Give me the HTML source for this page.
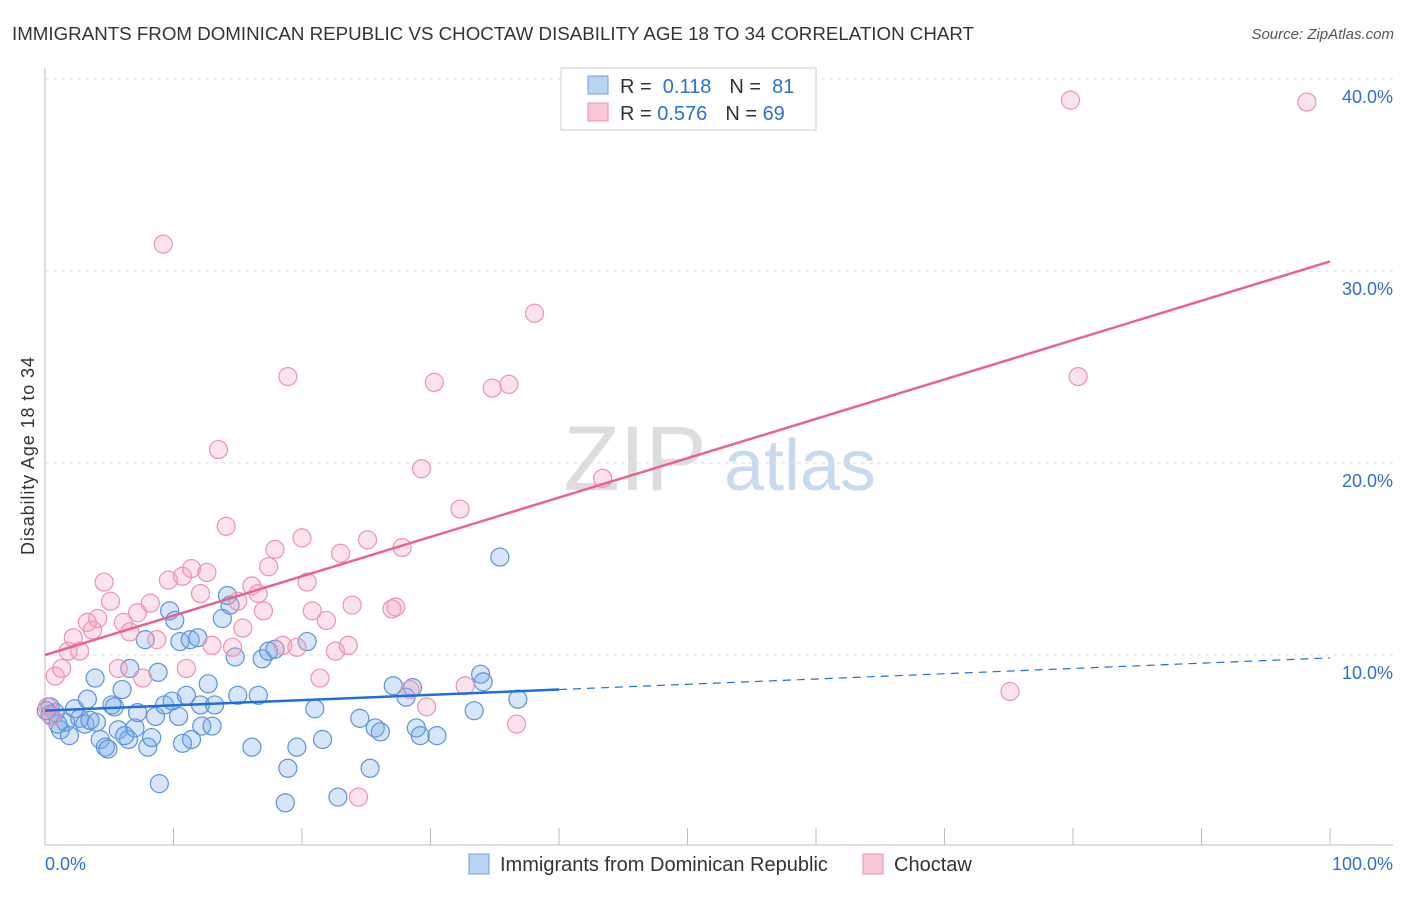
<!DOCTYPE html>
<html><head><meta charset="utf-8"><style>
body{margin:0;background:#fff;font-family:"Liberation Sans",sans-serif;}
svg text{font-family:"Liberation Sans",sans-serif;}
</style></head><body>
<svg id="chart" width="1406" height="892" viewBox="0 0 1406 892">
<text x="12" y="40" font-size="18" fill="#333" textLength="962" lengthAdjust="spacingAndGlyphs">IMMIGRANTS FROM DOMINICAN REPUBLIC VS CHOCTAW DISABILITY AGE 18 TO 34 CORRELATION CHART</text>
<text x="1394" y="39" font-size="15" fill="#555" font-style="italic" text-anchor="end">Source: ZipAtlas.com</text>
<text x="0" y="0" transform="translate(34,456) rotate(-90)" font-size="18" fill="#333" text-anchor="middle" textLength="198">Disability Age 18 to 34</text>
<g><text x="635" y="490" font-size="92" fill="#ddd" font-family="Liberation Serif" text-anchor="middle">ZIP</text><text x="800" y="490" font-size="72" fill="#c8daf0" text-anchor="middle">atlas</text></g>
<g id="grid"></g><g id="axes"></g><g id="pts"></g><g id="lines"></g>
<g>
<rect x="561" y="68" width="255" height="62" fill="#fff" stroke="#ccc"/>
<rect x="588" y="76" width="20" height="18" fill="#b9d3f2" stroke="#6a9ee0"/>
<rect x="588" y="103" width="20" height="18" fill="#f9c6d4" stroke="#eb8fab"/>
<text x="620" y="93" font-size="20" fill="#333">R = <tspan fill="#2a6fd6">&#160;0.118</tspan><tspan dx="18">N = </tspan><tspan fill="#2a6fd6">&#160;81</tspan></text>
<text x="620" y="120" font-size="20" fill="#333">R = <tspan fill="#2a6fd6">0.576</tspan><tspan dx="18">N = </tspan><tspan fill="#2a6fd6">69</tspan></text>
</g>
<g>
<rect x="469" y="854" width="20" height="20" fill="#b9d3f2" stroke="#6a9ee0"/>
<text x="500" y="871" font-size="20" fill="#333">Immigrants from Dominican Republic</text>
<rect x="863" y="854" width="20" height="20" fill="#f9c6d4" stroke="#eb8fab"/>
<text x="894" y="871" font-size="20" fill="#333">Choctaw</text>
</g>
</svg>
<script>
const xTickVals=[0,10,20,30,40,50,60,70,80,90,100];
const yTickVals=[10,20,30,40];
const yTickLabels=["10.0%","20.0%","30.0%","40.0%"];
const xEndLabels=["0.0%","100.0%"];
const blueX=[0.4,0.8,1.2,1.6,1.9,2.3,2.7,3.1,3.3,3.9,4.0,4.3,4.7,4.9,5.2,5.4,5.7,6.0,6.5,6.6,7.0,7.2,7.8,8.0,8.3,8.6,8.8,8.9,9.3,9.7,9.9,10.1,10.4,10.5,10.7,11.0,11.3,11.4,11.9,12.1,12.2,12.7,13.0,13.2,13.8,14.2,14.4,14.8,15.0,16.1,16.6,16.9,17.4,17.9,18.7,18.9,19.6,20.4,21.0,21.6,22.8,24.5,25.3,25.7,26.1,27.1,28.1,28.6,28.9,29.2,30.5,33.4,33.9,34.1,35.4,36.8,0.4,1.0,3.5,6.2,0.1];
const blueY=[7.3,7.0,6.1,6.5,5.8,7.2,6.7,6.4,7.7,8.8,6.5,5.6,5.2,5.1,7.4,7.3,6.1,8.2,5.6,9.3,6.2,7.0,10.8,5.2,5.7,6.8,9.1,3.3,7.4,12.3,7.6,11.8,6.8,10.7,5.4,7.9,10.8,5.6,10.9,7.4,6.3,8.5,6.3,7.4,11.9,13.1,12.6,9.9,7.9,5.2,7.9,9.8,10.2,10.3,2.3,4.1,5.2,10.7,7.2,5.6,2.6,6.7,4.1,6.2,6.0,8.4,7.8,8.3,6.2,5.8,5.8,7.1,9.0,8.6,15.1,7.7,6.9,6.4,6.6,5.8,7.1];
const pinkX=[0.2,0.8,1.3,1.8,2.2,2.7,3.3,3.7,4.1,4.6,5.1,5.7,6.1,6.6,7.2,7.6,8.2,8.7,9.2,9.6,10.7,11.0,11.4,12.1,12.6,13.0,13.5,14.1,14.6,15.0,15.4,16.1,16.6,17.0,17.4,17.9,18.5,18.9,19.6,20.0,20.4,20.8,21.4,21.9,22.6,23.0,23.6,23.9,24.4,25.1,27.0,27.3,27.8,28.4,29.3,29.7,30.3,32.3,32.7,34.8,36.1,36.7,38.1,43.4,75.1,79.8,80.4,98.2,0.5];
const pinkY=[7.3,8.9,9.3,10.2,10.9,10.2,11.7,11.3,11.9,13.8,12.8,9.3,11.7,11.2,12.2,8.8,12.7,10.8,31.4,13.9,14.1,9.3,14.5,13.2,14.3,10.5,20.7,16.7,10.4,12.8,11.4,13.6,13.2,12.3,14.6,15.5,10.5,24.5,10.4,16.1,13.8,12.3,8.8,11.8,10.2,15.3,10.5,12.6,2.6,16.0,12.4,12.5,15.6,8.2,19.7,7.3,24.2,17.6,8.4,23.9,24.1,6.4,27.8,19.2,8.1,38.9,24.5,38.8,6.8];
const blueTrend=[7.1,9.85];
const blueSolidEnd=40;
const pinkTrend=[10.0,30.5];

const NS="http://www.w3.org/2000/svg";
const X=v=>45+v*12.85, Y=v=>847-v*19.2;
function mk(p,t,a){const e=document.createElementNS(NS,t);for(const k in a)e.setAttribute(k,a[k]);p.appendChild(e);return e;}
const grid=document.getElementById('grid'),axes=document.getElementById('axes'),pts=document.getElementById('pts'),lines=document.getElementById('lines');
yTickVals.forEach((v,i)=>{
 const g=mk(grid,'line',{x1:45,x2:1393,y1:Y(v),y2:Y(v),stroke:'#ddd','stroke-dasharray':'4,4'});
 
 
 const t=mk(axes,'text',{x:1393,y:Y(v)+24,'font-size':18,fill:'#2a6fd6','text-anchor':'end'});t.textContent=yTickLabels[i];
 
 
});
const ax=mk(axes,'line',{x1:45,x2:1393,y1:845,y2:845,stroke:'#bbb'});


const ay=mk(axes,'line',{x1:45,x2:45,y1:68,y2:845,stroke:'#bbb'});


xTickVals.forEach(v=>{const l=mk(axes,'line',{x1:X(v),x2:X(v),y1:828,y2:845,stroke:'#bbb'});
 
 });
[[0,'start',45],[100,'end',1393]].forEach((d,i)=>{const t=mk(axes,'text',{x:d[2],y:870,'font-size':18,fill:'#2a6fd6','text-anchor':d[1]});t.textContent=xEndLabels[i];
 
 });
blueX.forEach((x,i)=>{const c=mk(pts,'circle',{cx:X(x),cy:Y(blueY[i]),r:9,fill:'rgba(120,170,230,0.3)',stroke:'#5b93dc','stroke-width':1.2});
 
 });
pinkX.forEach((x,i)=>{const c=mk(pts,'circle',{cx:X(x),cy:Y(pinkY[i]),r:9,fill:'rgba(245,160,185,0.3)',stroke:'#ec93ae','stroke-width':1.2});
 
 });
const bAt=x=>blueTrend[0]+(blueTrend[1]-blueTrend[0])*x/100;
const b1=mk(lines,'line',{x1:X(0),y1:Y(bAt(0)),x2:X(blueSolidEnd),y2:Y(bAt(blueSolidEnd)),stroke:'#1f6fd8','stroke-width':2.5});


const b2=mk(lines,'line',{x1:X(blueSolidEnd),y1:Y(bAt(blueSolidEnd)),x2:X(100),y2:Y(bAt(100)),stroke:'#1f6fd8','stroke-width':1.2,'stroke-dasharray':'8,6'});


const p1=mk(lines,'line',{x1:X(0),y1:Y(pinkTrend[0]),x2:X(100),y2:Y(pinkTrend[1]),stroke:'#e8638e','stroke-width':2.5});


</script>
</body></html>
